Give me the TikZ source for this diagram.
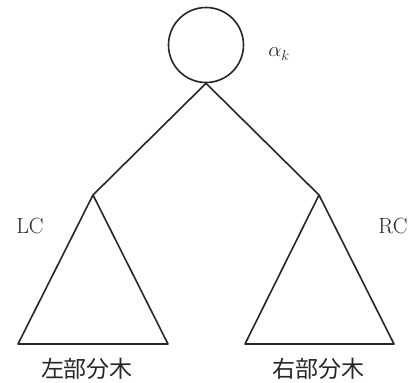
\documentclass[tikz,border=0pt]{standalone}
\usepackage{fontspec}
\newfontfamily\cjk{Noto Sans CJK JP}
\definecolor{ink}{HTML}{262626}
\begin{document}
\begin{tikzpicture}[x=1pt,y=-1pt,
  edge/.style={draw=ink,line width=1.6pt,line join=round},
  lbl/.style={text=ink,inner sep=0pt,font=\fontsize{22}{24}\selectfont},
  cjklbl/.style={text=ink,inner sep=0pt,font=\cjk\fontsize{23}{25}\selectfont}]
\useasboundingbox (0,0) rectangle (410,383);
\node[circle,draw=ink,line width=1.6pt,minimum size=75pt,inner sep=0pt] (root) at (206,45) {};
\coordinate (lc) at (93,195);
\coordinate (rc) at (319,195);
\coordinate (lbl) at (18,344);
\coordinate (lbr) at (168,344);
\coordinate (rbl) at (245,344);
\coordinate (rbr) at (394,344);
\draw[edge] (root.south) -- (lc);
\draw[edge] (root.south) -- (rc);
\draw[edge] (lc) -- (lbl) -- (lbr) -- cycle;
\draw[edge] (rc) -- (rbl) -- (rbr) -- cycle;
\node[lbl] (alpha) at (279,54) {$\alpha_k$};
\node[lbl] (lcl) at (30,226) {LC};
\node[lbl] (rcl) at (393,226) {RC};
\node[cjklbl] (lt) at (87,369) {左部分木};
\node[cjklbl] (rt) at (318,369) {右部分木};
\end{tikzpicture}
\end{document}
